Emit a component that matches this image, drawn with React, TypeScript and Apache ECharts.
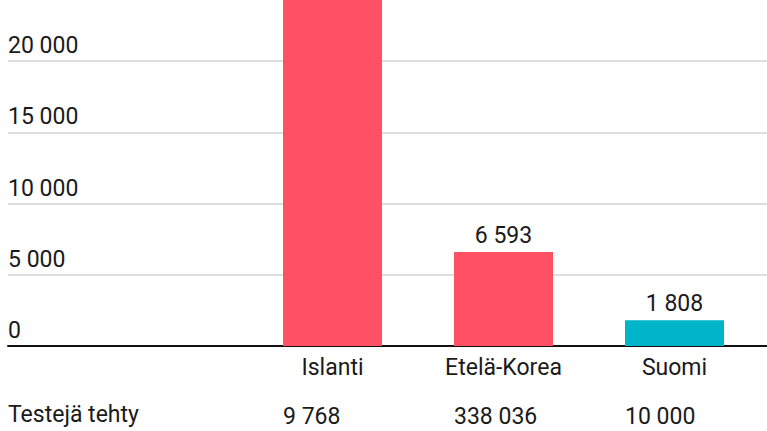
import { useRef, useEffect } from 'react'
import * as echarts from 'echarts'

// tests per million inhabitants
const countries = ['Islanti', 'Etelä-Korea', 'Suomi']
const perMillion = [26835, 6593, 1808]
const testsDone = ['9 768', '338 036', '10 000']
const barColors = ['#ff5064', '#ff5064', '#00b5c9']
const rowTitle = 'Testejä tehty'

const FONT = 'Roboto, "Noto Sans", sans-serif'
const TEXT = '#1a1a1a'
const CUT = 10 // chart is drawn taller and its top is cut off

const fmt = (v: number) => String(v).replace(/\B(?=(\d{3})+(?!\d))/g, ' ')

export default function App() {
  const chartRef = useRef<HTMLDivElement>(null)

  useEffect(() => {
    document.body.style.margin = '0'
    if (!chartRef.current) return
    const chart = echarts.init(chartRef.current, undefined, { renderer: 'svg' })

    const option: echarts.EChartsOption = {
      animation: false,
      textStyle: { fontFamily: FONT },
      grid: [
        { left: 8, right: 0, top: 0, bottom: 85 },
        { left: 247, right: 7, top: 0, bottom: 85 },
      ],
      xAxis: [
        {
          gridIndex: 0,
          type: 'value',
          min: 0,
          max: 1,
          axisLine: { show: true, onZero: false, lineStyle: { color: '#111', width: 2 } },
          axisTick: { show: false },
          axisLabel: { show: false },
          splitLine: { show: false },
        },
        {
          gridIndex: 1,
          type: 'category',
          data: countries,
          axisLine: { show: false },
          axisTick: { show: false },
          axisLabel: { fontSize: 23, color: TEXT, fontFamily: FONT, margin: 10 },
        },
        {
          gridIndex: 1,
          type: 'category',
          position: 'bottom',
          offset: 49,
          data: testsDone,
          axisLine: { show: false },
          axisTick: { show: false },
          axisLabel: {
            margin: 10,
            formatter: (v: string) => `{a|${v}}`,
            rich: {
              a: { width: 99, align: 'left', fontSize: 23, color: TEXT, fontFamily: FONT },
            },
          },
        },
      ],
      yAxis: [
        {
          gridIndex: 0,
          type: 'value',
          min: 0,
          max: 25000,
          interval: 5000,
          axisLine: { show: false },
          axisTick: { show: false },
          axisLabel: {
            inside: true,
            margin: 0,
            verticalAlign: 'bottom',
            padding: [0, 0, 4, 0],
            fontSize: 23,
            color: TEXT,
            fontFamily: FONT,
            showMaxLabel: false,
            formatter: (v: number) => fmt(v),
          },
          splitLine: { lineStyle: { color: '#d3d3d3', width: 1.5 } },
        },
        {
          gridIndex: 1,
          type: 'value',
          min: 0,
          max: 25000,
          show: false,
        },
      ],
      graphic: [
        {
          type: 'text',
          left: 8,
          top: 403 + CUT,
          style: { text: rowTitle, fontSize: 23, fill: TEXT, fontFamily: FONT },
        },
      ],
      series: [
        {
          type: 'bar',
          xAxisIndex: 1,
          yAxisIndex: 1,
          barWidth: 99,
          data: perMillion.map((v, i) => ({
            value: v,
            itemStyle: { color: barColors[i] },
            label: { show: v < 25000 },
          })),
          label: {
            show: true,
            position: 'top',
            distance: 5,
            fontSize: 23,
            color: TEXT,
            fontFamily: FONT,
            formatter: (p: any) => fmt(p.value),
          },
        },
      ],
    }

    chart.setOption(option)
    return () => chart.dispose()
  }, [])

  return (
    <div style={{ width: 767, height: 431, overflow: 'hidden' }}>
      <div ref={chartRef} style={{ width: 767, height: 431 + CUT, marginTop: -CUT }} />
    </div>
  )
}
